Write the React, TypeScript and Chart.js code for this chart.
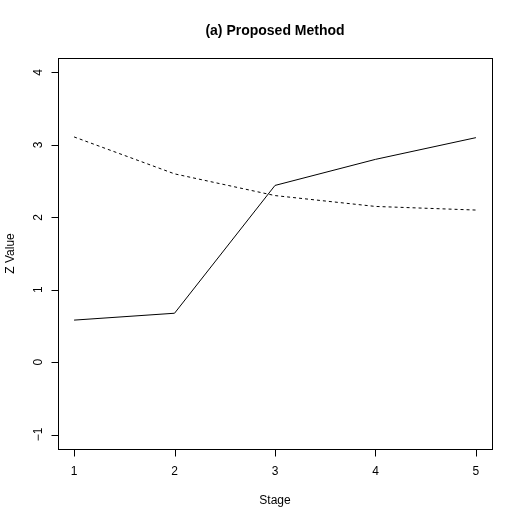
import React, { useEffect, useRef } from "react";
import { Chart, registerables } from "chart.js";

Chart.register(...registerables);

const stages = [1, 2, 3, 4, 5];
const proposedSolid = [0.58, 0.675, 2.44, 2.8, 3.1];
const proposedDashed = [3.11, 2.6, 2.3, 2.15, 2.1];
const xTicks = [1, 2, 3, 4, 5];
const yTicks = [-1, 0, 1, 2, 3, 4];
const titleText = "(a) Proposed Method";
const xLabel = "Stage";
const yLabel = "Z Value";

const FONT = "Liberation Sans, Arial, Helvetica, sans-serif";

const rAxesPlugin = {
  id: "rAxes",
  afterDraw(chart: any) {
    const ctx = chart.ctx as CanvasRenderingContext2D;
    const { left, right, top, bottom } = chart.chartArea;
    const xs = chart.scales.x;
    const ys = chart.scales.y;
    ctx.save();
    ctx.strokeStyle = "#000";
    ctx.lineWidth = 1;
    // box
    ctx.strokeRect(Math.round(left) + 0.5, Math.round(top) + 0.5, Math.round(right - left), Math.round(bottom - top));
    // x ticks
    ctx.fillStyle = "#000";
    ctx.font = `12px ${FONT}`;
    ctx.textAlign = "center";
    ctx.textBaseline = "middle";
    const by = Math.round(bottom) + 0.5;
    const x1 = Math.round(xs.getPixelForValue(xTicks[0])) + 0.5;
    const x2 = Math.round(xs.getPixelForValue(xTicks[xTicks.length - 1])) + 0.5;
    ctx.beginPath();
    ctx.moveTo(x1, by);
    ctx.lineTo(x2, by);
    for (const t of xTicks) {
      const px = Math.round(xs.getPixelForValue(t)) + 0.5;
      ctx.moveTo(px, by);
      ctx.lineTo(px, by + 7);
    }
    ctx.stroke();
    for (const t of xTicks) {
      const px = xs.getPixelForValue(t);
      ctx.fillText(String(t), px, by + 22);
    }
    // y ticks
    const lx = Math.round(left) + 0.5;
    const y1 = Math.round(ys.getPixelForValue(yTicks[0])) + 0.5;
    const y2 = Math.round(ys.getPixelForValue(yTicks[yTicks.length - 1])) + 0.5;
    ctx.beginPath();
    ctx.moveTo(lx, y1);
    ctx.lineTo(lx, y2);
    for (const t of yTicks) {
      const py = Math.round(ys.getPixelForValue(t)) + 0.5;
      ctx.moveTo(lx, py);
      ctx.lineTo(lx - 7, py);
    }
    ctx.stroke();
    for (const t of yTicks) {
      const py = ys.getPixelForValue(t);
      ctx.save();
      ctx.translate(lx - 19.5, py);
      ctx.rotate(-Math.PI / 2);
      ctx.fillText(t < 0 ? "\u2212" + Math.abs(t) : String(t), 0, 0);
      ctx.restore();
    }
    // axis titles
    ctx.fillText(xLabel, (left + right) / 2, by + 51);
    ctx.save();
    ctx.translate(11, (top + bottom) / 2);
    ctx.rotate(-Math.PI / 2);
    ctx.fillText(yLabel, 0, 0);
    ctx.restore();
    // main title
    ctx.font = `bold 14px ${FONT}`;
    ctx.fillText(titleText, (left + right) / 2, 31);
    ctx.restore();
  },
};

export default function App() {
  const ref = useRef<HTMLCanvasElement>(null);
  useEffect(() => {
    if (!ref.current) return;
    const chart = new Chart(ref.current, {
      type: "line",
      data: {
        datasets: [
          {
            data: stages.map((s, i) => ({ x: s, y: proposedSolid[i] })),
            borderColor: "#000",
            borderWidth: 1,
            pointRadius: 0,
            fill: false,
            tension: 0,
          },
          {
            data: stages.map((s, i) => ({ x: s, y: proposedDashed[i] })),
            borderColor: "#000",
            borderWidth: 1,
            borderDash: [3, 3],
            pointRadius: 0,
            fill: false,
            tension: 0,
          },
        ],
      },
      options: {
        responsive: false,
        animation: false,
        layout: { padding: { left: 58, right: 31, top: 58, bottom: 74 } },
        plugins: { legend: { display: false }, tooltip: { enabled: false }, title: { display: false } },
        scales: {
          x: { type: "linear", min: 0.84, max: 5.16, display: false },
          y: { type: "linear", min: -1.2, max: 4.2, display: false },
        },
      },
      plugins: [rAxesPlugin],
    });
    return () => chart.destroy();
  }, []);
  return (
    <div style={{ position: "absolute", left: 0, top: 0, width: 523, height: 523, background: "#fff" }}>
      <canvas ref={ref} width={523} height={523} style={{ width: 523, height: 523 }} />
    </div>
  );
}
